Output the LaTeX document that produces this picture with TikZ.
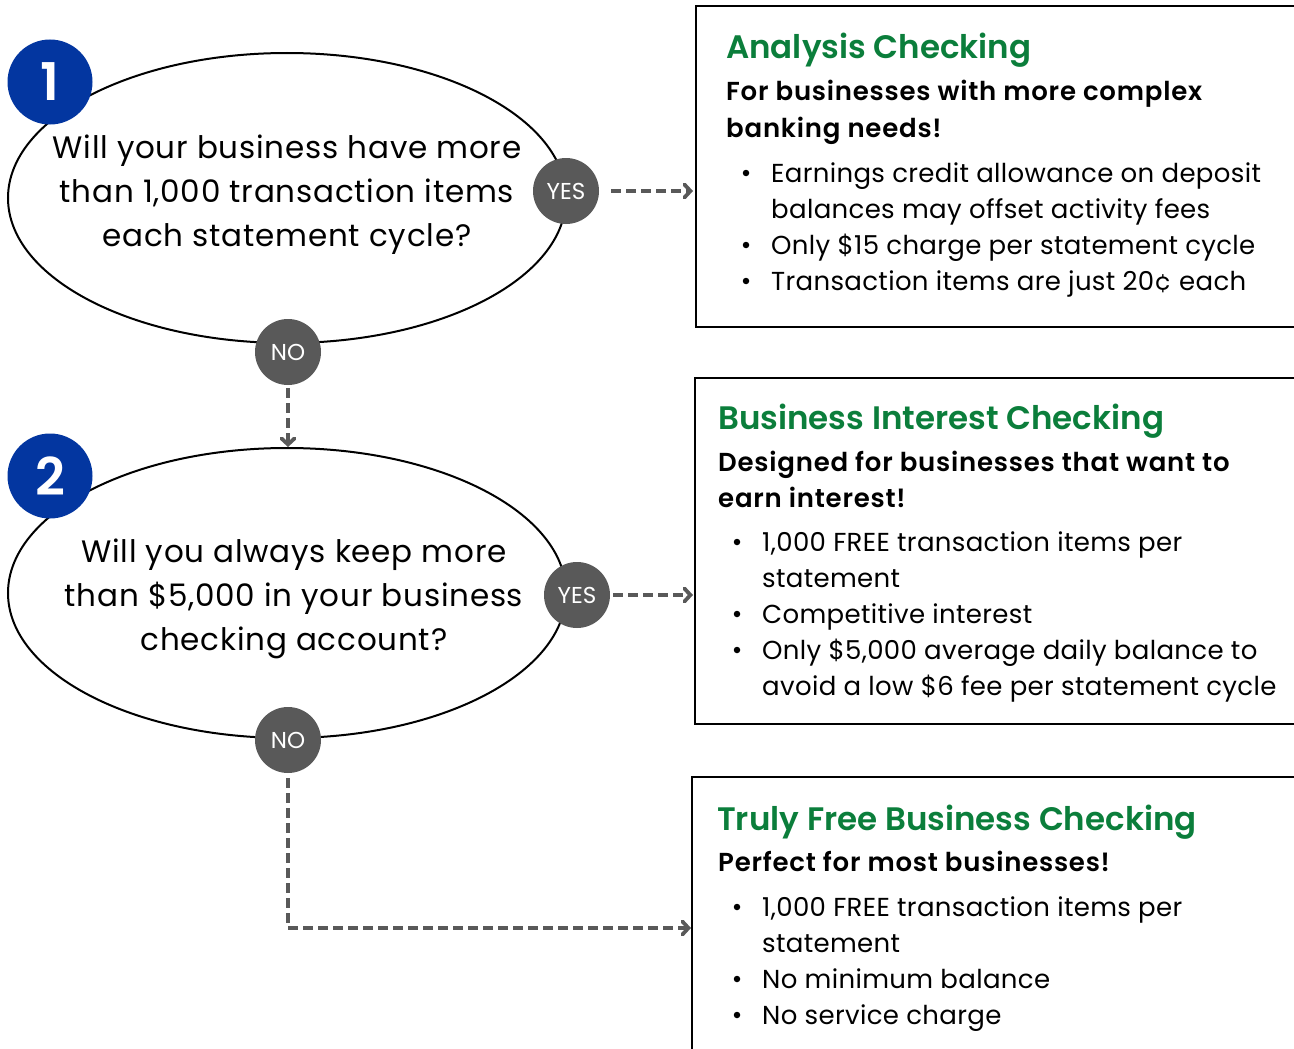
\documentclass[tikz,border=0pt]{standalone}
\usepackage{fontspec}
\setmainfont{Poppins}
\newfontfamily\semifont{Poppins SemiBold}
\newfontfamily\qfont{Poppins}[LetterSpace=2.5]
\newfontfamily\bodyfont{Poppins}[LetterSpace=1.3]
\newfontfamily\subfont{Poppins SemiBold}[LetterSpace=3]
\usetikzlibrary{arrows.meta,shapes.geometric}
\definecolor{numblue}{HTML}{0336A0}
\definecolor{ansgray}{HTML}{595959}
\definecolor{titlegreen}{HTML}{0B7E3B}
\begin{document}
\begin{tikzpicture}[x=1pt,y=-1pt,
  q/.style={ellipse, draw=black, line width=2pt, minimum width=558pt, minimum height=290pt, inner sep=0pt, outer sep=0pt},
  qtext/.style={anchor=base, align=center, inner sep=0pt, font=\fontsize{31}{44}\qfont},
  num/.style={circle, fill=numblue, minimum size=85pt, inner sep=0pt, text=white, font=\fontsize{52}{52}\semifont},
  ans/.style={circle, fill=ansgray, minimum size=66pt, inner sep=0pt, text=white, font=\fontsize{23}{23}\selectfont},
  flow/.style={draw=ansgray, line width=3.8pt, dash pattern=on 10pt off 5pt, -{Straight Barb[length=6pt,width=13pt,line cap=round]}},
  card/.style={rectangle, draw=black, line width=2.2pt, anchor=north west, inner sep=0pt, outer sep=0pt},
  ttl/.style={anchor=base west, inner sep=0pt, text=titlegreen, font=\fontsize{32.5}{32.5}\semifont},
  sub/.style={anchor=base west, inner sep=0pt, align=left, font=\fontsize{26}{36}\subfont},
  dot/.style={circle, fill=black, minimum size=6.5pt, inner sep=0pt},
  itm/.style={anchor=base west, inner sep=0pt, align=left, font=\fontsize{26}{36}\bodyfont}
]
\useasboundingbox (0,0) rectangle (1294,1049);
\clip (0,0) rectangle (1294,1049);
\fill[white] (0,0) rectangle (1294,1049);

% question ellipses
\node[q] (q1) at (287,198) {};
\node[q] (q2) at (287,593) {};
\node[qtext] (q1t) at (287,246) {Will your business have more\\than 1,000 transaction items\\each statement cycle?};
\node[qtext] (q2t) at (294,650) {Will you always keep more\\than \$5,000 in your business\\checking account?};

% numbers
\node[num] (n1) at (50,82) {1};
\node[num] (n2) at (50,476) {2};

% answer circles
\node[ans] (yes1) at (566,191) {YES};
\node[ans] (no1) at (288,352) {NO};
\node[ans] (yes2) at (577,595) {YES};
\node[ans] (no2) at (288,740) {NO};

% cards
\node[card, minimum width=640pt, minimum height=321pt] (box1) at (696,6) {};
\node[card, minimum width=640pt, minimum height=346pt] (box2) at (695,378) {};
\node[card, minimum width=640pt, minimum height=320pt] (box3) at (692,777) {};

% card 1 text
\node[ttl] (t1) at (726,59) {Analysis Checking};
\node[sub] (s1) at (726,137) {For businesses with more complex\\banking needs!};
\node[dot] (d11) at (746,173) {};
\node[itm] (i11) at (771,218) {Earnings credit allowance on deposit\\balances may offset activity fees};
\node[dot] (d12) at (746,245) {};
\node[itm] (i12) at (771,254) {Only \$15 charge per statement cycle};
\node[dot] (d13) at (746,281) {};
\node[itm] (i13) at (771,290) {Transaction items are just 20¢ each};

% card 2 text
\node[ttl] (t2) at (718,429) {Business Interest Checking};
\node[sub] (s2) at (718,507) {Designed for businesses that want to\\earn interest!};
\node[dot] (d21) at (737,542) {};
\node[itm] (i21) at (762,587) {1,000 FREE transaction items per\\statement};
\node[dot] (d22) at (737,614) {};
\node[itm] (i22) at (762,623) {Competitive interest};
\node[dot] (d23) at (737,650) {};
\node[itm] (i23) at (762,695) {Only \$5,000 average daily balance to\\avoid a low \$6 fee per statement cycle};

% card 3 text
\node[ttl] (t3) at (717,830) {Truly Free Business Checking};
\node[sub] (s3) at (718,871) {Perfect for most businesses!};
\node[dot] (d31) at (737,907) {};
\node[itm] (i31) at (762,952) {1,000 FREE transaction items per\\statement};
\node[dot] (d32) at (737,979) {};
\node[itm] (i32) at (762,988) {No minimum balance};
\node[dot] (d33) at (737,1015) {};
\node[itm] (i33) at (762,1024) {No service charge};

% connectors
\path (box3.north west) ++(0,151) coordinate (box3in);
\draw[flow, shorten <=12pt, shorten >=3pt] (yes1.east) -- (yes1.east -| box1.west);
\draw[flow, shorten <=3pt, shorten >=2pt] (yes2.east) -- (yes2.east -| box2.west);
\draw[flow, shorten <=3pt, shorten >=1pt] (no1.south) -- (no1.south |- q2.north);
\draw[flow, shorten <=5pt, shorten >=1pt] (no2.south) |- (box3in);
\end{tikzpicture}
\end{document}
